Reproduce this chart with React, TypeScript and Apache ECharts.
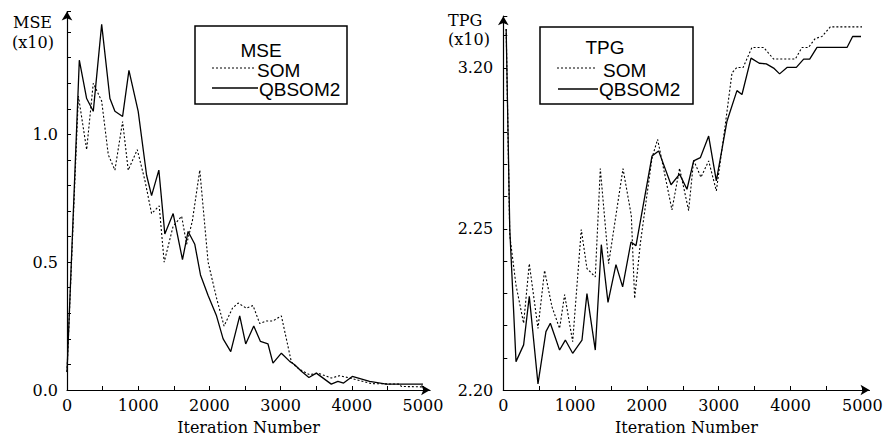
import React, { useEffect, useRef } from 'react';
import * as echarts from 'echarts';

// ---- axis ticks / labels ----
const xTickMarks = [0, 500, 1000, 1500, 2000, 2500, 3000, 3500, 4000, 4500, 5000];
const xTickLabels = [0, 1000, 2000, 3000, 4000, 5000];
const mseTickValues = [0, 0.5, 1.0];
const tpgTickValues = [2.2, 2.7, 3.2];
const tpgTickLabels = ['2.20', '2.25', '3.20'];

// ---- MSE chart ----
const mseSomIter = [0, 160, 276, 369, 487, 580, 673, 781, 860, 987, 1094, 1188, 1295, 1365, 1490, 1610, 1680, 1760, 1865, 1982, 2100, 2206, 2324, 2403, 2520, 2613, 2707, 2800, 2893, 3011, 3151, 3221, 3314, 3408, 3525, 3712, 3829, 3969, 4274, 4670, 4695, 5000];
const mseSomVal = [0.07, 1.15, 0.94, 1.20, 1.13, 0.92, 0.86, 1.05, 0.86, 0.94, 0.82, 0.69, 0.72, 0.50, 0.64, 0.68, 0.57, 0.66, 0.86, 0.50, 0.36, 0.25, 0.32, 0.34, 0.32, 0.33, 0.26, 0.27, 0.27, 0.29, 0.11, 0.09, 0.073, 0.06, 0.066, 0.047, 0.056, 0.047, 0.025, 0.023, 0.014, 0.012];
const mseQbIter = [0, 173, 276, 369, 487, 603, 673, 781, 870, 1000, 1118, 1188, 1290, 1374, 1491, 1622, 1701, 1795, 1875, 1982, 2100, 2193, 2300, 2426, 2510, 2623, 2717, 2823, 2893, 3011, 3128, 3198, 3292, 3398, 3502, 3712, 3805, 3885, 4007, 4250, 4484, 5000];
const mseQbVal = [0.07, 1.29, 1.14, 1.09, 1.43, 1.14, 1.09, 1.07, 1.25, 1.09, 0.84, 0.76, 0.86, 0.61, 0.69, 0.51, 0.62, 0.57, 0.45, 0.37, 0.29, 0.20, 0.15, 0.29, 0.18, 0.25, 0.19, 0.18, 0.105, 0.144, 0.112, 0.099, 0.073, 0.049, 0.066, 0.023, 0.034, 0.027, 0.053, 0.034, 0.023, 0.023];

// ---- TPG chart ----
const tpgSomIter = [40, 90, 177, 283, 362, 483, 575, 678, 784, 854, 966, 1086, 1165, 1281, 1351, 1467, 1667, 1783, 1829, 1908, 2071, 2149, 2349, 2455, 2581, 2651, 2753, 2860, 2967, 3092, 3185, 3254, 3340, 3463, 3625, 3765, 4067, 4160, 4250, 4345, 4438, 4554, 4996];
const tpgSomVal = [3.32, 2.68, 2.525, 2.407, 2.592, 2.391, 2.571, 2.458, 2.391, 2.496, 2.35, 2.698, 2.577, 2.551, 2.887, 2.592, 2.887, 2.741, 2.484, 2.654, 2.92, 2.978, 2.759, 2.888, 2.757, 2.913, 2.86, 2.911, 2.818, 3.024, 3.184, 3.201, 3.201, 3.263, 3.263, 3.227, 3.227, 3.263, 3.263, 3.291, 3.297, 3.327, 3.327];
const tpgQbIter = [40, 90, 177, 283, 362, 483, 594, 655, 784, 864, 966, 1096, 1165, 1281, 1365, 1458, 1569, 1662, 1778, 1848, 2071, 2163, 2336, 2455, 2558, 2651, 2744, 2860, 2967, 3115, 3254, 3324, 3450, 3565, 3663, 3765, 3848, 3951, 4081, 4183, 4267, 4369, 4787, 4865, 4982];
const tpgQbVal = [3.32, 2.70, 2.288, 2.34, 2.491, 2.219, 2.381, 2.407, 2.324, 2.355, 2.314, 2.355, 2.499, 2.324, 2.651, 2.472, 2.589, 2.52, 2.659, 2.648, 2.926, 2.942, 2.837, 2.87, 2.823, 2.911, 2.921, 2.988, 2.849, 3.034, 3.129, 3.117, 3.23, 3.214, 3.212, 3.199, 3.181, 3.201, 3.201, 3.227, 3.227, 3.263, 3.263, 3.297, 3.297];

const SERIF = 'DejaVu Serif';
const SANS = 'Liberation Sans';
const INK = '#000';

const pairs = (xs: number[], ys: number[]) => xs.map((x, i) => [x, ys[i]]);

function xAxis(gridIndex: number) {
  return {
    type: 'value',
    gridIndex,
    min: 0,
    max: 5100,
    axisLine: { show: true, onZero: false, symbol: ['none', 'arrow'], symbolSize: [8, 9], lineStyle: { color: INK, width: 1.2 } },
    axisTick: { show: true, inside: true, length: 4, customValues: xTickMarks, lineStyle: { color: INK, width: 1 } },
    axisLabel: { customValues: xTickLabels, color: INK, fontFamily: SERIF, fontSize: 16, margin: 7, formatter: (v: number) => String(v) },
    splitLine: { show: false },
    name: 'Iteration Number',
    nameLocation: 'middle',
    nameGap: 29,
    nameTextStyle: { color: INK, fontFamily: SERIF, fontSize: 16 },
  };
}

function lineSeries(xi: number, data: number[][], dotted: boolean) {
  return {
    type: 'line',
    xAxisIndex: xi,
    yAxisIndex: xi,
    data,
    symbol: 'none',
    showSymbol: false,
    lineStyle: dotted ? { color: INK, width: 1.1, type: [2, 2] } : { color: INK, width: 1.3 },
    z: 3,
  };
}

function legendGroup(bx: number, by: number, bw: number, bh: number, title: string, tx: number, ty: number,
  d: number[], s: number[], somX: number, qbX: number) {
  const font = `19px "${SANS}"`;
  const lh = 14;
  return {
    type: 'group',
    z: 10,
    children: [
      { type: 'rect', shape: { x: bx, y: by, width: bw, height: bh }, style: { fill: '#fff', stroke: INK, lineWidth: 1.5 } },
      { type: 'text', x: tx, y: ty, style: { text: title, font, lineHeight: lh, fill: INK, align: 'center', verticalAlign: 'middle' } },
      { type: 'line', shape: { x1: d[0], y1: d[2], x2: d[1], y2: d[2] }, style: { stroke: INK, lineWidth: 1, lineDash: [2, 2] } },
      { type: 'text', x: somX, y: 70, style: { text: 'SOM', font, lineHeight: lh, fill: INK, align: 'left', verticalAlign: 'middle' } },
      { type: 'line', shape: { x1: s[0], y1: s[2], x2: s[1], y2: s[2] }, style: { stroke: INK, lineWidth: 1.3 } },
      { type: 'text', x: qbX, y: 89, style: { text: 'QBSOM2', font, lineHeight: lh, fill: INK, align: 'left', verticalAlign: 'middle' } },
    ],
  };
}

export default function App() {
  const ref = useRef<HTMLDivElement>(null);
  useEffect(() => {
    if (!ref.current) return;
    const chart = echarts.init(ref.current, null, { renderer: 'svg' });
    const titleFont = `16px "${SERIF}"`;
    chart.setOption({
      animation: false,
      backgroundColor: '#fff',
      grid: [
        { left: 67, top: 11.6, width: 363.1, height: 380.4 },
        { left: 503.3, top: 16.2, width: 366.2, height: 375.8 },
      ],
      xAxis: [xAxis(0), xAxis(1)],
      yAxis: [
        {
          type: 'value', gridIndex: 0, min: 0, max: 1.48, interval: 0.1,
          axisLine: { show: true, symbol: ['none', 'arrow'], symbolSize: [8, 9], lineStyle: { color: INK, width: 1.2 } },
          axisTick: { show: true, inside: true, length: 4, lineStyle: { color: INK } },
          axisLabel: { customValues: mseTickValues, color: INK, fontFamily: SERIF, fontSize: 16, margin: 9, formatter: (v: number) => v.toFixed(1) },
          splitLine: { show: false },
        },
        {
          type: 'value', gridIndex: 1, min: 2.2, max: 3.36, interval: 0.1,
          axisLine: { show: true, symbol: ['none', 'arrow'], symbolSize: [8, 9], lineStyle: { color: INK, width: 1.2 } },
          axisTick: { show: true, inside: true, length: 4, lineStyle: { color: INK } },
          axisLabel: {
            customValues: tpgTickValues, color: INK, fontFamily: SERIF, fontSize: 16, margin: 10,
            formatter: (v: number) => {
              let best = 0;
              tpgTickValues.forEach((t, i) => { if (Math.abs(t - v) < Math.abs(tpgTickValues[best] - v)) best = i; });
              return tpgTickLabels[best];
            },
          },
          splitLine: { show: false },
        },
      ],
      series: [
        lineSeries(0, pairs(mseSomIter, mseSomVal), true),
        lineSeries(0, pairs(mseQbIter, mseQbVal), false),
        lineSeries(1, pairs(tpgSomIter, tpgSomVal), true),
        lineSeries(1, pairs(tpgQbIter, tpgQbVal), false),
      ],
      graphic: [
        { type: 'text', x: 13, y: 22, style: { text: 'MSE', font: titleFont, lineHeight: 16, fill: INK, verticalAlign: 'middle' } },
        { type: 'text', x: 12, y: 42, style: { text: '(x10)', font: titleFont, lineHeight: 16, fill: INK, verticalAlign: 'middle' } },
        { type: 'text', x: 448, y: 20, style: { text: 'TPG', font: titleFont, lineHeight: 16, fill: INK, verticalAlign: 'middle' } },
        { type: 'text', x: 448, y: 39, style: { text: '(x10)', font: titleFont, lineHeight: 16, fill: INK, verticalAlign: 'middle' } },
        legendGroup(195, 26, 152, 78, 'MSE', 261, 50, [212, 255, 68], [212, 258, 88], 257, 259),
        legendGroup(540, 27, 153, 77, 'TPG', 605, 47, [557, 597, 68], [558, 598, 89], 603, 599),
      ],
    });
    return () => chart.dispose();
  }, []);
  return (
    <div
      ref={ref}
      style={{ position: 'absolute', left: 0, top: 0, width: 891, height: 440, background: '#fff' }}
    />
  );
}
